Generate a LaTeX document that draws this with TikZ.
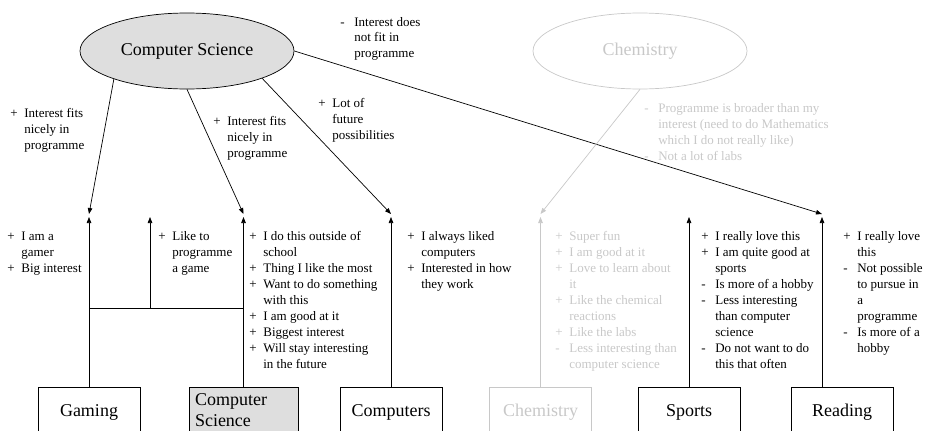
\documentclass[tikz,border=0pt]{standalone}
\usepackage{fontspec}
\setmainfont{Liberation Serif}
\usetikzlibrary{arrows.meta,shapes.geometric}
\definecolor{pale}{RGB}{200,200,200}
\definecolor{fond}{RGB}{222,222,222}
\newcommand{\avis}[1]{\begin{tabular}[t]{@{}p{14pt}@{}l@{}}#1\end{tabular}}
\begin{document}
\begin{tikzpicture}[x=1pt,y=-1pt,line width=0.7pt,
  fleche/.style={-{Triangle[length=6pt,width=4.5pt]}},
  choix/.style={draw,ellipse,minimum width=214pt,minimum height=76pt,inner sep=0pt,font=\fontsize{18}{21}\selectfont},
  boite/.style={draw,rectangle,anchor=north,minimum width=102pt,minimum height=50pt,inner sep=0pt,font=\fontsize{18}{21}\selectfont},
  remarque/.style={anchor=base west,inner sep=0pt,font=\fontsize{13}{16}\selectfont}]
\pgfmathsetmacro{\haut}{387}
\pgfmathsetmacro{\pointe}{217}
\pgfmathsetmacro{\arrivee}{214}
\pgfmathsetmacro{\barre}{308}
\pgfmathsetmacro{\ligne}{240}
\useasboundingbox (0,0) rectangle (929,431);
\clip (0,0) rectangle (929,431);
  \node[choix,fill=fond] (cs) at (187,51) {Computer Science};
  \node[choix,draw=pale,text=pale] (chem) at (640,51) {Chemistry};
  \node[boite] (gaming) at (89,\haut) {Gaming};
  \node[boite,fill=fond,minimum width=0pt,minimum height=0pt,text width=97pt,align=left,
        inner xsep=6pt,inner ysep=6pt,text height=12.5pt,text depth=30pt] (csbox) at (243.5,\haut) {Computer\\Science};
  \node[boite] (comp) at (391,\haut) {Computers};
  \node[boite,draw=pale,text=pale] (chembox) at (540.5,\haut) {Chemistry};
  \node[boite] (sports) at (689,\haut) {Sports};
  \node[boite] (reading) at (842,\haut) {Reading};
  \coordinate (gaming-in) at (89,\arrivee);
  \coordinate (gaming-tip) at (89,\pointe);
  \coordinate (csbox-in) at (243.5,\arrivee);
  \coordinate (csbox-tip) at (243.5,\pointe);
  \coordinate (comp-in) at (391,\arrivee);
  \coordinate (comp-tip) at (391,\pointe);
  \coordinate (chembox-in) at (540.5,\arrivee);
  \coordinate (chembox-tip) at (540.5,\pointe);
  \coordinate (sports-tip) at (689,\pointe);
  \coordinate (reading-in) at (822,\arrivee);
  \coordinate (reading-tip) at (822,\pointe);
  \coordinate (reading-foot) at (822,\haut);
  \coordinate (fork-g) at (89,\barre);
  \coordinate (fork-c) at (243.5,\barre);
  \coordinate (fork-m) at (150,\barre);
  \coordinate (fork-m-tip) at (150,\pointe);
  \draw[fleche] (cs.201) -- (gaming-in);
  \draw[fleche] (cs.south) -- (csbox-in);
  \draw[fleche] (cs.340) -- (comp-in);
  \draw[fleche] (cs.east) -- (reading-in);
  \draw[fleche,pale] (chem.south) -- (chembox-in);
  \draw[fleche] (gaming.north) -- (gaming-tip);
  \draw[fleche] (csbox.north) -- (csbox-tip);
  \draw[fleche] (comp.north) -- (comp-tip);
  \draw[fleche,pale] (chembox.north) -- (chembox-tip);
  \draw[fleche] (sports.north) -- (sports-tip);
  \draw[fleche] (reading-foot) -- (reading-tip);
  \draw (fork-g) -- (fork-c);
  \draw[fleche] (fork-m) -- (fork-m-tip);
  \node[remarque] (r-gaming-in) at (10,117) {\avis{+ & Interest fits\\ & nicely in\\ & programme}};
  \node[remarque] (r-csbox-in) at (213,125) {\avis{+ & Interest fits\\ & nicely in\\ & programme}};
  \node[remarque] (r-comp-in) at (318,107) {\avis{+ & Lot of\\ & future\\ & possibilities}};
  \node[remarque] (r-reading-in) at (340,26) {\avis{- & Interest does\\ & not fit in\\ & programme}};
  \node[remarque,text=pale] (r-chem) at (644,112) {\avis{- & Programme is broader than my\\ & interest (need to do Mathematics\\ & which I do not really like)\\ - & Not a lot of labs}};
  \node[remarque] (r-gaming) at (7,\ligne) {\avis{+ & I am a\\ & gamer\\ + & Big interest}};
  \node[remarque] (r-fork) at (158,\ligne) {\avis{+ & Like to\\ & programme\\ & a game}};
  \node[remarque] (r-csbox) at (249,\ligne) {\avis{+ & I do this outside of\\ & school\\ + & Thing I like the most\\ + & Want to do something\\ & with this\\ + & I am good at it\\ + & Biggest interest\\ + & Will stay interesting\\ & in the future}};
  \node[remarque] (r-comp) at (407,\ligne) {\avis{+ & I always liked\\ & computers\\ + & Interested in how\\ & they work}};
  \node[remarque,text=pale] (r-chembox) at (555,\ligne) {\avis{+ & Super fun\\ + & I am good at it\\ + & Love to learn about\\ & it\\ + & Like the chemical\\ & reactions\\ + & Like the labs\\ - & Less interesting than\\ & computer science}};
  \node[remarque] (r-sports) at (701,\ligne) {\avis{+ & I really love this\\ + & I am quite good at\\ & sports\\ - & Is more of a hobby\\ - & Less interesting\\ & than computer\\ & science\\ - & Do not want to do\\ & this that often}};
  \node[remarque] (r-reading) at (843,\ligne) {\avis{+ & I really love\\ & this\\ - & Not possible\\ & to pursue in\\ & a\\ & programme\\ - & Is more of a\\ & hobby}};
\end{tikzpicture}
\end{document}
